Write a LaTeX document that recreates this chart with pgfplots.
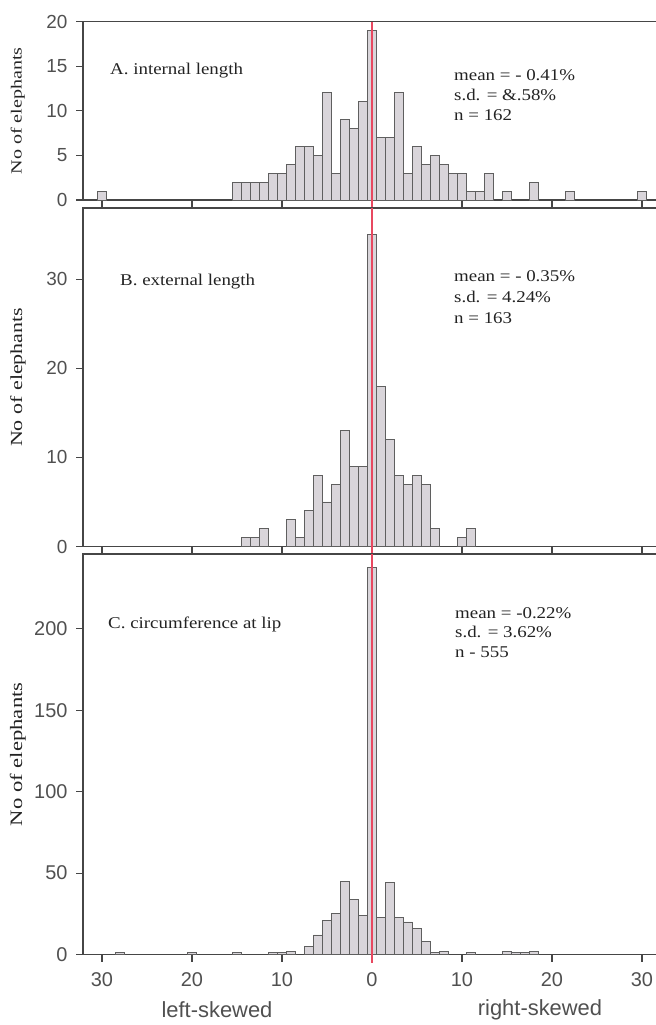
\documentclass[border=0pt]{standalone}
\usepackage{pgfplots}
\pgfplotsset{compat=1.18}
\usepackage{fontspec}
\setmainfont[FakeStretch=1.15]{Liberation Serif}
\newfontfamily\ylabfont[FakeStretch=1.3]{Liberation Serif}
\newfontfamily\sansf{Liberation Sans}
\definecolor{barfill}{RGB}{217,213,218}
\definecolor{baredge}{RGB}{95,95,95}
\definecolor{axcol}{RGB}{70,70,70}
\definecolor{redl}{RGB}{232,72,96}
\definecolor{txt}{RGB}{35,35,35}
\definecolor{ticktxt}{RGB}{80,80,80}

\pgfplotstableread{
x y
-30 1
-15 2
-14 2
-13 2
-12 2
-11 3
-10 3
-9 4
-8 6
-7 6
-6 5
-5 12
-4 3
-3 9
-2 8
-1 11
0 19
1 7
2 7
3 12
4 3
5 6
6 4
7 5
8 4
9 3
10 3
11 1
12 1
13 3
15 1
18 2
22 1
30 1
}\dataA

\pgfplotstableread{
x y
-14 1
-13 1
-12 2
-9 3
-8 1
-7 4
-6 8
-5 5
-4 7
-3 13
-2 9
-1 9
0 35
1 18
2 12
3 8
4 7
5 8
6 7
7 2
10 1
11 2
}\dataB

\pgfplotstableread{
x y
-28 1
-20 1
-15 1
-11 1
-10 1
-9 2
-7 5
-6 12
-5 21
-4 25
-3 45
-2 34
-1 24
0 238
1 23
2 44
3 23
4 20
5 16
6 8
7 1
8 2
11 1
15 2
16 1
17 1
18 2
}\dataC

\tikzset{redline/.style={redl, line width=2.5bp}}
\pgfplotsset{
  panel/.style={
    scale only axis, width=576bp, xmin=-32.1, xmax=31.9, ymin=0,
    anchor=south west, clip=false,
    axis line style={axcol, line width=1.3bp},
    tick style={axcol, line width=1.2bp},
    tick align=outside, major tick length=7bp,
    xtick pos=left, ytick pos=left,
    xtick={-30,-20,...,30},
    xticklabels={30,20,10,0,10,20,30},
    ticklabel style={font=\sansf\fontsize{19}{19}\selectfont, text=ticktxt},
    yticklabel style={xshift=-5bp},
    xticklabel style={yshift=-8bp},
    /pgf/number format/assume math mode=true,
    ylabel={No of elephants},
    ylabel style={at={(axis description cs:-0.113,0.5)}, anchor=center, text=txt},
  },
  bars/.style={ybar, bar width=1, fill=barfill, draw=baredge, line width=0.9bp},
}

\begin{document}
\begin{tikzpicture}
\useasboundingbox (0,0) rectangle (656bp,-1025bp);

% Panel A
\begin{axis}[panel, at={(83bp,-200bp)}, height=178.5bp, ymax=20,
  ytick={0,5,...,20}, xticklabels={},
  ylabel style={font=\ylabfont\fontsize{15.5}{15.5}\selectfont}]
\addplot[bars] table[x=x,y=y] {\dataA};
\draw[redline] ([yshift=-8bp]axis cs:0,0) -- (axis cs:0,20);
\end{axis}

% Panel B
\begin{axis}[panel, at={(83bp,-546.5bp)}, height=338.5bp, ymax=38,
  ytick={0,10,20,30}, xticklabels={},
  ylabel style={font=\ylabfont\fontsize{17}{17}\selectfont}]
\addplot[bars] table[x=x,y=y] {\dataB};
\draw[redline] ([yshift=-8bp]axis cs:0,0) -- (axis cs:0,38);
\end{axis}

% Panel C
\begin{axis}[panel, at={(83bp,-954.5bp)}, height=400.5bp, ymax=246,
  ytick={0,50,...,200},
  ticklabel style={font=\sansf\fontsize{20}{20}\selectfont},
  ylabel style={font=\ylabfont\fontsize{17.5}{17.5}\selectfont}]
\addplot[bars] table[x=x,y=y] {\dataC};
\draw[redline] ([yshift=-8bp]axis cs:0,0) -- (axis cs:0,246);
\end{axis}

% Annotations
\begin{scope}[every node/.style={anchor=base west, inner sep=0pt, text=txt, font=\fontsize{16.5}{16.5}\selectfont}]
\node at (110bp,-74bp) {A. internal length};
\node at (454bp,-80bp) {mean = - 0.41\%};
\node at (454bp,-100bp) {s.d. = \&.58\%};
\node at (454bp,-120.5bp) {n = 162};

\node at (120bp,-285.5bp) {B. external length};
\node at (454bp,-281.5bp) {mean = - 0.35\%};
\node at (454bp,-302bp) {s.d. = 4.24\%};
\node at (454bp,-323bp) {n = 163};

\node at (108bp,-628bp) {C. circumference at lip};
\node at (455bp,-618bp) {mean = -0.22\%};
\node at (455bp,-637.5bp) {s.d. = 3.62\%};
\node at (455bp,-657bp) {n - 555};
\end{scope}

\node[font=\sansf\fontsize{22}{22}\selectfont, text=ticktxt, anchor=center] at (217bp,-1010bp) {left-skewed};
\node[font=\sansf\fontsize{22}{22}\selectfont, text=ticktxt, anchor=center] at (540bp,-1010bp) {right-skewed};
\end{tikzpicture}
\end{document}
